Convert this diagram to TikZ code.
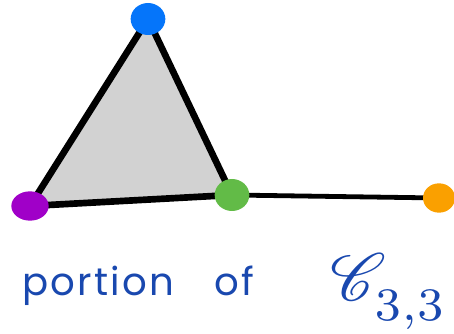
\documentclass[tikz,border=0pt]{standalone}
\usepackage{fontspec}
\usepackage{mathrsfs}
\usetikzlibrary{positioning,backgrounds,shapes.geometric}
\newfontfamily\handfont[LetterSpace=6]{Poppins}
\definecolor{dotblue}{RGB}{5,117,250}
\definecolor{dotpurple}{RGB}{160,0,200}
\definecolor{dotgreen}{RGB}{98,187,71}
\definecolor{dotorange}{RGB}{250,160,0}
\definecolor{facegray}{RGB}{210,210,210}
\definecolor{inkblue}{RGB}{25,72,175}

\begin{document}
\begin{tikzpicture}[x=0.75pt,y=-0.75pt,
    vertexdot/.style={ellipse,inner sep=0pt,minimum width=26pt,minimum height=24pt},
    edgeline/.style={line width=5pt,line cap=round,line join=round}]
  \useasboundingbox (0,0) rectangle (454,334);
  % vertices
  \node[vertexdot,fill=dotblue] (apex) at (148,19) {};
  \node[vertexdot,fill=dotpurple,minimum width=28pt,minimum height=22pt] (leftv) at (30,206) {};
  \node[vertexdot,fill=dotgreen] (rightv) at (232,195) {};
  \node[vertexdot,fill=dotorange,minimum width=24pt,minimum height=22pt] (farv) at (439,198) {};
  % face and edges
  \begin{scope}[on background layer]
    \fill[facegray] (apex.center) -- (leftv.center) -- (rightv.center) -- cycle;
    \draw[edgeline] (apex.center) -- (leftv.center) -- (rightv.center) -- cycle;
    \draw[line width=3.6pt,line cap=round] (rightv.center) -- (farv.center);
  \end{scope}
  % caption
  \node[text=inkblue,font=\handfont\fontsize{29}{29}\selectfont,
        anchor=base west,inner sep=0pt] (caption) at (22,296) {portion\hspace{30pt}of};
  \node[text=inkblue,inner sep=0pt,scale=5,anchor=base west] (cname) at (329,301)
    {$\mathscr{C}_{\raisebox{-1.5pt}{$\scriptstyle 3,3$}}$};
\end{tikzpicture}
\end{document}
